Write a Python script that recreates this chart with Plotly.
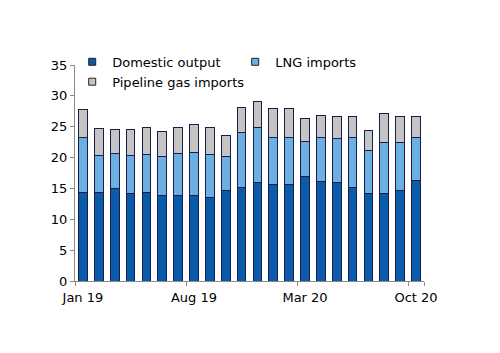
import plotly.graph_objects as go

months = ["Jan 19", "Feb 19", "Mar 19", "Apr 19", "May 19", "Jun 19", "Jul 19",
          "Aug 19", "Sep 19", "Oct 19", "Nov 19", "Dec 19", "Jan 20", "Feb 20",
          "Mar 20", "Apr 20", "May 20", "Jun 20", "Jul 20", "Aug 20", "Sep 20", "Oct 20"]
domestic = [14.3, 14.3, 15.0, 14.1, 14.4, 13.9, 13.9, 13.9, 13.5, 14.6, 15.1, 16.0,
            15.7, 15.7, 16.9, 16.1, 15.9, 15.2, 14.2, 14.2, 14.6, 16.3]
lng = [9.0, 6.0, 5.6, 6.2, 6.1, 6.2, 6.7, 7.0, 7.0, 5.5, 8.9, 8.9,
       7.6, 7.6, 5.7, 7.1, 7.2, 8.0, 6.9, 8.2, 7.9, 6.9]
pipeline = [4.5, 4.4, 4.0, 4.3, 4.3, 4.2, 4.2, 4.4, 4.3, 3.4, 4.1, 4.2,
            4.6, 4.6, 3.8, 3.6, 3.6, 3.5, 3.3, 4.7, 4.1, 3.5]
tick_labels = ["Jan 19", "Aug 19", "Mar 20", "Oct 20"]

series_names = ["Domestic output", "LNG imports", "Pipeline gas imports"]
series_colors = ["#0A5BAA", "#6CB0E3", "#C4C4C4"]

font = dict(family="DejaVu Sans", size=13, color="black")
line = dict(color="#1C1C48", width=1)
axis_col = "#8A8A8A"

fig = go.Figure()
for name, vals, col in zip(series_names, [domestic, lng, pipeline], series_colors):
    fig.add_trace(go.Bar(x=months, y=vals, name=name, showlegend=False,
                         marker=dict(color=col, line=line)))
# legend entries with small square swatches
for name, col in zip(series_names, series_colors):
    fig.add_trace(go.Scatter(x=[None], y=[None], mode="markers", name=name,
                             marker=dict(symbol="square", size=7, color=col,
                                         line=dict(color="#222222", width=1))))

fig.update_layout(
    width=500, height=353,
    barmode="stack", bargap=0.45,
    paper_bgcolor="white", plot_bgcolor="white",
    margin=dict(l=75, r=76, t=65, b=72),
    font=font,
    showlegend=True,
    legend=dict(orientation="h", x=-0.008, y=1.084, xanchor="left", yanchor="top",
                traceorder="normal", entrywidth=118, entrywidthmode="pixels",
                font=font, bgcolor="rgba(0,0,0,0)", itemwidth=30,
                tracegroupgap=0),
    xaxis=dict(type="category", tickmode="array", tickvals=tick_labels,
               ticktext=tick_labels, tickson="boundaries", ticks="outside",
               ticklen=4, tickcolor=axis_col, showline=True, linecolor=axis_col,
               linewidth=1, showgrid=False, tickfont=font, tickangle=0,
               ticklabelstandoff=4),
    yaxis=dict(range=[0, 35], dtick=5, ticks="outside", ticklen=4,
               tickcolor=axis_col, showline=True, linecolor=axis_col, linewidth=1,
               showgrid=False, zeroline=False, tickfont=font),
)

fig.write_html("out.html")
